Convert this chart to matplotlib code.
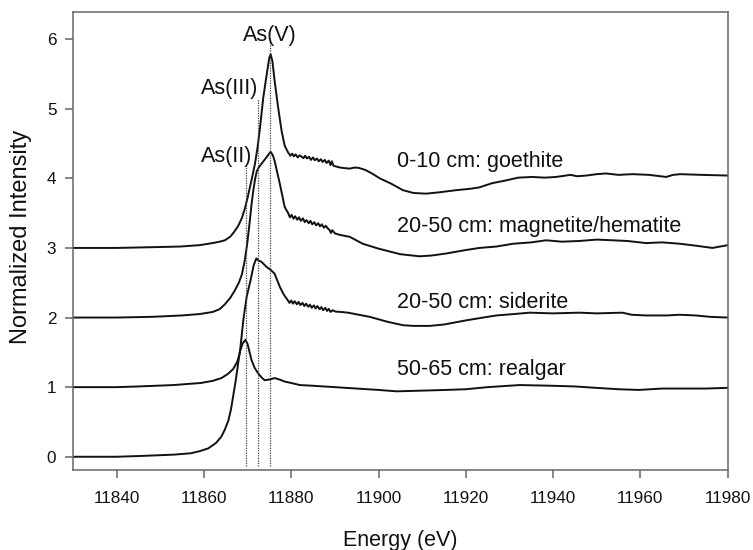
import numpy as np
import matplotlib
matplotlib.use("Agg")
import matplotlib.pyplot as plt

plt.rcParams['font.family'] = ['Liberation Sans', 'DejaVu Sans']

# normalized As K-edge XANES (stacked with offsets)
e_goe = [11830, 11840, 11847.6, 11854.5, 11859, 11862, 11863.6, 11864.8, 11866, 11866.8,
         11867.8, 11868.7, 11869.4, 11870.0, 11870.5, 11871.1, 11871.7, 11872.3, 11872.8,
         11873.6, 11874.4, 11875.0, 11875.3, 11875.7, 11876.2, 11877.0, 11877.8, 11878.5,
         11879.3, 11879.8, 11880.2, 11880.6, 11881.0, 11881.5, 11881.9, 11882.3, 11882.8,
         11883.2, 11883.6, 11884.1, 11884.5, 11885.0, 11885.4, 11885.9, 11886.3, 11886.8,
         11887.2, 11887.7, 11888.1, 11888.6, 11889.0, 11889.3, 11889.7, 11890.3, 11891.2,
         11892.5, 11893.4, 11894.5, 11895.5, 11897, 11898.5, 11900.3, 11903, 11905.6, 11908,
         11910.9, 11914, 11917.8, 11921, 11923.1, 11926, 11929.2, 11932, 11935.3, 11938,
         11940.7, 11944, 11945.5, 11947.6, 11950, 11952.1, 11955, 11958.2, 11962, 11965.9,
         11967.5, 11969.1, 11974, 11980]
mu_goe = [0.00, 0.00, 0.01, 0.02, 0.04, 0.07, 0.09, 0.11, 0.16, 0.22,
          0.31, 0.43, 0.57, 0.72, 0.86, 1.03, 1.21, 1.45, 1.70,
          2.16, 2.50, 2.74, 2.78, 2.68, 2.40, 2.02, 1.68, 1.47,
          1.37, 1.325, 1.355, 1.315, 1.345, 1.30, 1.33, 1.315, 1.29,
          1.325, 1.285, 1.31, 1.265, 1.30, 1.26, 1.285, 1.245, 1.275,
          1.235, 1.265, 1.22, 1.255, 1.19, 1.245, 1.18, 1.17, 1.155,
          1.145, 1.14, 1.155, 1.15, 1.12, 1.07, 1.00, 0.92, 0.83, 0.79,
          0.78, 0.80, 0.83, 0.85, 0.87, 0.93, 0.97, 1.01, 1.02, 1.01,
          1.02, 1.05, 1.03, 1.04, 1.06, 1.07, 1.05, 1.06, 1.05, 1.02,
          1.05, 1.06, 1.05, 1.04]

e_mag = [11830, 11840, 11848, 11855, 11859, 11862, 11863.6, 11864.8, 11866, 11867,
         11868, 11868.7, 11869.3, 11869.9, 11870.5, 11870.9, 11871.3, 11871.7, 11872.1,
         11872.6, 11873.2, 11874.3, 11875.0, 11875.3, 11875.8, 11876.2, 11877.4, 11878.5,
         11879.3, 11879.7, 11880.1, 11880.5, 11880.9, 11881.4, 11881.8, 11882.2, 11882.7,
         11883.1, 11883.5, 11884.0, 11884.4, 11884.8, 11885.3, 11885.7, 11886.2, 11886.6,
         11887.0, 11887.5, 11887.9, 11888.4, 11888.8, 11889.1, 11889.4, 11890.0, 11891.0,
         11892.5, 11893.4, 11896.4, 11900, 11905, 11909.4, 11912, 11915.5, 11920, 11923.1,
         11927, 11930.8, 11935, 11938.4, 11942, 11946, 11950, 11953.6, 11957, 11961.3,
         11965, 11969.1, 11973, 11976.5, 11980]
mu_mag = [0.00, 0.00, 0.01, 0.03, 0.05, 0.08, 0.12, 0.19, 0.28, 0.38,
          0.50, 0.62, 0.80, 1.05, 1.38, 1.62, 1.82, 1.98, 2.10,
          2.16, 2.21, 2.30, 2.36, 2.38, 2.33, 2.25, 1.92, 1.59,
          1.50, 1.44, 1.475, 1.42, 1.455, 1.405, 1.44, 1.39, 1.425,
          1.37, 1.40, 1.355, 1.39, 1.34, 1.37, 1.325, 1.355, 1.31,
          1.34, 1.29, 1.32, 1.28, 1.255, 1.215, 1.255, 1.21, 1.19,
          1.17, 1.16, 1.06, 0.99, 0.91, 0.88, 0.89, 0.92, 0.97, 1.00,
          1.02, 1.06, 1.08, 1.11, 1.09, 1.10, 1.12, 1.11, 1.10, 1.07,
          1.08, 1.06, 1.03, 1.00, 1.04]

e_sid = [11830, 11840, 11845, 11853, 11859.3, 11862, 11864, 11865.5, 11866.7, 11867.6,
         11868.2, 11869.1, 11869.8, 11870.7, 11871.4, 11872.0, 11872.5, 11873.2, 11874.3,
         11875.2, 11876.2, 11877.4, 11878.3, 11879.2, 11879.6, 11880.0, 11880.4, 11880.8,
         11881.3, 11881.7, 11882.1, 11882.6, 11883.0, 11883.4, 11883.9, 11884.3, 11884.7,
         11885.2, 11885.6, 11886.0, 11886.5, 11886.9, 11887.3, 11887.8, 11888.2, 11888.6,
         11889.0, 11889.5, 11890.2, 11891.5, 11893, 11898, 11902, 11905.6, 11908, 11911.7,
         11915, 11920.1, 11923, 11927, 11931, 11934.6, 11940, 11946, 11950, 11955.9,
         11958, 11961.3, 11966, 11969, 11972.7, 11976, 11980]
mu_sid = [0.00, 0.00, 0.01, 0.03, 0.06, 0.09, 0.13, 0.19, 0.26, 0.36,
          0.48, 1.00, 1.30, 1.54, 1.75, 1.85, 1.82, 1.80, 1.73,
          1.69, 1.63, 1.44, 1.33, 1.25, 1.21, 1.245, 1.20, 1.235,
          1.19, 1.225, 1.18, 1.21, 1.165, 1.20, 1.155, 1.185, 1.14,
          1.175, 1.13, 1.165, 1.12, 1.15, 1.105, 1.14, 1.095, 1.125,
          1.08, 1.105, 1.085, 1.08, 1.07, 1.01, 0.94, 0.89, 0.88, 0.88,
          0.90, 0.96, 0.99, 1.03, 1.05, 1.07, 1.06, 1.07, 1.06, 1.07,
          1.04, 1.03, 1.03, 1.04, 1.03, 1.01, 1.00]

e_rea = [11830, 11840, 11845, 11853, 11857, 11859, 11861, 11862.8, 11864.0, 11864.8,
         11865.6, 11866.2, 11867.3, 11868.2, 11868.9, 11869.5, 11870.0, 11870.9, 11871.6,
         11872.4, 11873.2, 11873.9, 11875.0, 11876.2, 11877.3, 11878.5, 11880, 11882,
         11885, 11890, 11895, 11900, 11904.1, 11910, 11915.5, 11920, 11925, 11932.3,
         11939.8, 11945, 11949.8, 11955, 11959.7, 11965, 11970, 11975, 11980]
mu_rea = [0.00, 0.00, 0.01, 0.03, 0.05, 0.08, 0.12, 0.20, 0.29, 0.39,
          0.52, 0.68, 1.10, 1.50, 1.63, 1.68, 1.62, 1.39, 1.28,
          1.20, 1.14, 1.10, 1.11, 1.13, 1.11, 1.08, 1.06, 1.03,
          1.02, 1.00, 0.98, 0.96, 0.94, 0.95, 0.96, 0.97, 1.00, 1.03,
          1.02, 1.01, 0.99, 0.97, 0.96, 0.98, 0.98, 0.98, 0.99]

samples = ['0-10 cm: goethite', '20-50 cm: magnetite/hematite',
           '20-50 cm: siderite', '50-65 cm: realgar']
offsets = [3, 2, 1, 0]
label_y = [4.17, 3.23, 2.13, 1.17]

# reference energies for the oxidation states
ref_names = ['As(II)', 'As(III)', 'As(V)']
ref_energy = [11869.6, 11872.4, 11875.2]
ref_top = [4.21, 5.14, 6.02]

fig = plt.figure(figsize=(7.53, 5.5), dpi=100)
ax = fig.add_axes([0.0969, 0.1455, 0.8695, 0.8327])

curves = [(e_goe, mu_goe), (e_mag, mu_mag), (e_sid, mu_sid), (e_rea, mu_rea)]
for (e, mu), off, name, ly in zip(curves, offsets, samples, label_y):
    ax.plot(e, np.array(mu) + off, color='#111111', lw=1.4)
    ax.text(11904.3, ly, name, fontsize=15.5, ha='left', va='baseline', color='#111111')

for name, e0, top in zip(ref_names, ref_energy, ref_top):
    ax.plot([e0, e0], [-0.14, top], color='#444444', lw=0.9, ls=(0, (1, 1)))

ax.text(11875.2, 5.98, 'As(V)', fontsize=15.5, ha='center', va='baseline', color='#111111')
ax.text(11859.3, 5.21, 'As(III)', fontsize=15.5, ha='left', va='baseline', color='#111111')
ax.text(11859.3, 4.24, 'As(II)', fontsize=15.5, ha='left', va='baseline', color='#111111')

ax.set_xlim(11830, 11980)
ax.set_ylim(-0.19, 6.39)
ax.set_xticks(np.arange(11840, 11981, 20))
ax.set_yticks(np.arange(0, 7, 1))

for s in ax.spines.values():
    s.set_color('#666666')
    s.set_linewidth(1.1)
ax.tick_params(direction='out', length=6, width=1.1, color='#666666',
               labelsize=12.3, labelcolor='#111111')
ax.tick_params(axis='x', pad=9)
ax.tick_params(axis='y', pad=6)

ax.set_xlabel('Energy (eV)', fontsize=15.5, color='#111111')
ax.set_ylabel('Normalized Intensity', fontsize=17, color='#111111')
ax.xaxis.set_label_coords(0.5, -0.13)
ax.yaxis.set_label_coords(-0.063, 0.51)

fig.savefig('out.png', dpi=100)
